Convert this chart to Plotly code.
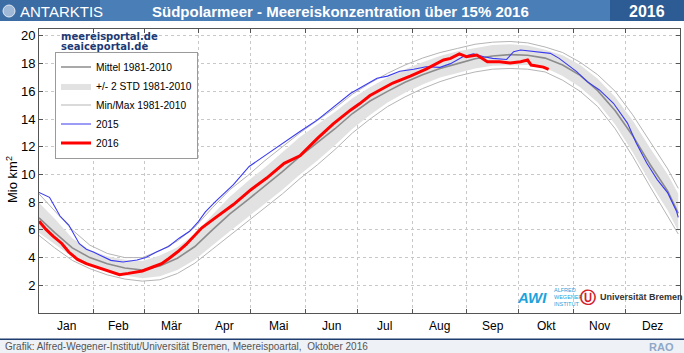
import plotly.graph_objects as go

# ---------------- data ----------------
month_labels = ["Jan", "Feb", "Mär", "Apr", "Mai", "Jun", "Jul", "Aug", "Sep", "Okt", "Nov", "Dez"]
month_starts = [1, 32, 61, 92, 122, 153, 183, 214, 245, 275, 306, 336, 367]

clim_days = [1, 10, 20, 30, 40, 50, 60, 70, 80, 90, 100, 110, 120, 130, 140, 150, 160, 170, 180,
             190, 200, 210, 220, 230, 240, 250, 260, 270, 280, 290, 300, 310, 320, 330, 340, 350, 360, 366]
mean_vals = [6.87, 5.8, 4.7, 4.0, 3.55, 3.25, 3.1, 3.4, 3.95, 4.8, 6.0, 7.15, 8.15, 9.15, 10.2, 11.3, 12.3, 13.3, 14.4,
             15.3, 16.0, 16.65, 17.2, 17.65, 18.0, 18.35, 18.55, 18.65, 18.6, 18.4, 17.9, 17.15, 16.05, 14.6, 12.8, 10.7, 8.8, 7.2]
std_hi = [7.95, 6.8, 5.4, 4.55, 4.1, 3.85, 3.75, 4.15, 4.75, 5.7, 7.1, 8.4, 9.5, 10.5, 11.6, 12.7, 13.6, 14.5, 15.5,
          16.3, 17.0, 17.6, 18.1, 18.55, 18.9, 19.15, 19.35, 19.4, 19.3, 19.0, 18.6, 17.9, 16.9, 15.6, 13.9, 11.9, 10.0, 8.6]
std_lo = [5.8, 4.95, 4.05, 3.45, 3.0, 2.7, 2.5, 2.65, 3.1, 3.85, 4.9, 5.9, 6.9, 7.9, 8.9, 10.0, 11.0, 12.1, 13.3,
          14.3, 15.2, 15.9, 16.5, 17.0, 17.35, 17.65, 17.85, 17.9, 17.9, 17.7, 17.1, 16.3, 15.2, 13.6, 11.6, 9.4, 7.4, 5.9]
max_vals = [8.6, 7.4, 6.0, 4.9, 4.3, 4.0, 4.0, 4.5, 5.2, 6.2, 7.6, 8.9, 9.9, 11.0, 12.0, 13.0, 13.9, 14.8, 15.8,
            16.6, 17.3, 17.9, 18.4, 18.8, 19.1, 19.4, 19.55, 19.6, 19.5, 19.2, 18.8, 18.1, 17.2, 16.0, 14.3, 12.3, 10.4, 9.0]
min_vals = [5.6, 4.7, 3.8, 3.2, 2.75, 2.45, 2.3, 2.4, 2.85, 3.6, 4.6, 5.6, 6.6, 7.6, 8.6, 9.7, 10.7, 11.8, 13.0,
            14.0, 14.9, 15.6, 16.2, 16.7, 17.1, 17.4, 17.6, 17.65, 17.6, 17.4, 16.8, 16.0, 14.9, 13.3, 11.3, 9.1, 7.0, 5.7]

days_2015 = [1, 7, 13, 18, 24, 28, 32, 37, 42, 49, 57, 62, 68, 75, 81, 87, 92, 96, 102, 112, 121, 131, 140, 150,
             160, 169, 179, 184, 194, 200, 207, 215, 222, 230, 236, 243, 249, 255, 260, 268, 272, 276, 285, 293,
             298, 304, 308, 314, 321, 329, 337, 342, 348, 354, 360, 365, 366]
ice_2015 = [8.7, 8.35, 7.0, 6.35, 5.0, 4.6, 4.4, 4.1, 3.8, 3.68, 3.82, 4.0, 4.4, 4.8, 5.4, 5.9, 6.6, 7.3, 8.07, 9.26,
            10.58, 11.45, 12.26, 13.1, 13.94, 14.85, 15.86, 16.22, 16.95, 17.1, 17.45, 17.59, 17.78, 17.73, 18.0,
            18.5, 18.7, 18.5, 18.38, 18.3, 18.86, 18.98, 18.86, 18.74, 18.38, 17.78, 17.42, 16.7, 16.1, 15.14, 13.71,
            12.27, 10.83, 9.63, 8.67, 7.35, 6.9]

days_2016 = [1, 5, 9, 14, 18, 23, 28, 33, 37, 42, 47, 52, 56, 60, 66, 71, 75, 80, 85, 90, 94, 102, 112, 122, 131,
             141, 150, 160, 169, 179, 184, 190, 196, 203, 213, 222, 232, 236, 241, 245, 251, 257, 264, 270, 276,
             280, 282, 286, 289, 292]
ice_2016 = [6.63, 6.03, 5.55, 5.02, 4.4, 3.87, 3.56, 3.35, 3.15, 2.96, 2.77, 2.86, 2.96, 3.03, 3.32, 3.56, 3.92,
            4.4, 4.95, 5.6, 6.15, 6.9, 7.83, 8.9, 9.74, 10.8, 11.35, 12.6, 13.65, 14.66, 15.1, 15.7, 16.1, 16.6,
            17.1, 17.6, 18.26, 18.38, 18.7, 18.5, 18.62, 18.14, 18.14, 18.05, 18.14, 18.26, 17.9, 17.83, 17.75, 17.59]

y_ticks = [2, 4, 6, 8, 10, 12, 14, 16, 18, 20]

# ---------------- layout helpers ----------------
W, H = 684, 353
L, R, T, B = 39, 4, 29, 40
PW, PH = W - L - R, H - T - B


def px_x(p):
    return (p - L) / PW


def px_y(p):
    return (H - B - p) / PH


FONT = "Liberation Sans, Arial, sans-serif"
NARROW = "Liberation Sans Narrow, Arial Narrow, Liberation Sans, Arial, sans-serif"
WIDE = "DejaVu Sans, Verdana, sans-serif"

fig = go.Figure()

# band
fig.add_trace(go.Scatter(x=clim_days, y=std_lo, mode="lines", line=dict(width=0, color="#e2e2e2"),
                         showlegend=False, hoverinfo="skip"))
fig.add_trace(go.Scatter(x=clim_days, y=std_hi, mode="lines", line=dict(width=0, color="#e2e2e2"),
                         fill="tonexty", fillcolor="#e2e2e2", name="+/- 2 STD 1981-2010", legendrank=2))
# min / max
fig.add_trace(go.Scatter(x=clim_days, y=max_vals, mode="lines", line=dict(width=1, color="#b5b5b5"),
                         name="Min/Max 1981-2010", legendrank=3))
fig.add_trace(go.Scatter(x=clim_days, y=min_vals, mode="lines", line=dict(width=1, color="#b5b5b5"),
                         showlegend=False))
# mean
fig.add_trace(go.Scatter(x=clim_days, y=mean_vals, mode="lines", line=dict(width=1.6, color="#8c8c8c"),
                         name="Mittel 1981-2010", legendrank=1))
# years
fig.add_trace(go.Scatter(x=days_2015, y=ice_2015, mode="lines", line=dict(width=1.1, color="#3a3af0"),
                         name="2015", legendrank=4))
fig.add_trace(go.Scatter(x=days_2016, y=ice_2016, mode="lines", line=dict(width=3, color="#ff0000"),
                         name="2016", legendrank=5))

axis_common = dict(showline=True, linecolor="#555555", linewidth=1, mirror="ticks", ticks="inside",
                   ticklen=4, tickcolor="#555555", showgrid=True, gridcolor="#c8c8c8", griddash="dot",
                   gridwidth=1, zeroline=False)

fig.update_layout(
    width=W, height=H, margin=dict(l=L, r=R, t=T, b=B),
    paper_bgcolor="white", plot_bgcolor="white",
    font=dict(family=FONT, size=12, color="black"),
    xaxis=dict(range=[1, 367], tickvals=month_starts, showticklabels=False, **axis_common),
    yaxis=dict(range=[0, 20.5], tickvals=y_ticks, ticktext=[str(v) for v in y_ticks],
               tickfont=dict(size=13), **axis_common),
    legend=dict(x=px_x(55), y=px_y(51.5), xanchor="left", yanchor="top", bgcolor="white",
                bordercolor="#9a9a9a", borderwidth=1, font=dict(size=10.2, family=FONT),
                itemwidth=30, tracegroupgap=0, traceorder="normal"),
    showlegend=True,
)

shapes = []
# title bar
shapes.append(dict(type="rect", xref="paper", yref="paper", x0=px_x(0), x1=px_x(100), y0=px_y(21), y1=px_y(0),
                   fillcolor="#3b6ca4", line=dict(width=0), layer="above"))
shapes.append(dict(type="rect", xref="paper", yref="paper", x0=px_x(100), x1=px_x(610), y0=px_y(21), y1=px_y(0),
                   fillcolor="#4a7eb7", line=dict(width=0), layer="above"))
shapes.append(dict(type="rect", xref="paper", yref="paper", x0=px_x(610), x1=px_x(684), y0=px_y(21), y1=px_y(0),
                   fillcolor="#2d5b93", line=dict(width=0), layer="above"))
# globe icon
shapes.append(dict(type="circle", xref="paper", yref="paper", x0=px_x(3), x1=px_x(15), y0=px_y(17), y1=px_y(5),
                   fillcolor="#9fb8d8", line=dict(width=1, color="#dfe8f3"), layer="above"))
# footer
shapes.append(dict(type="rect", xref="paper", yref="paper", x0=px_x(0), x1=px_x(684), y0=px_y(353), y1=px_y(340),
                   fillcolor="#eef1f5", line=dict(width=0), layer="above"))
shapes.append(dict(type="rect", xref="paper", yref="paper", x0=px_x(0), x1=px_x(684), y0=px_y(340), y1=px_y(338.5),
                   fillcolor="#1f3d6e", line=dict(width=0), layer="above"))
fig.update_layout(shapes=shapes)

ann = []
ann.append(dict(text="ANTARKTIS", x=px_x(18), y=px_y(11), xref="paper", yref="paper", xanchor="left",
                yanchor="middle", showarrow=False, font=dict(family=NARROW, size=15, color="white")))
ann.append(dict(text="<b>Südpolarmeer - Meereiskonzentration über 15% 2016</b>", x=px_x(340), y=px_y(11),
                xref="paper", yref="paper", xanchor="center", yanchor="middle", showarrow=False,
                font=dict(family=NARROW, size=15, color="white")))
ann.append(dict(text="<b>2016</b>", x=px_x(647), y=px_y(11), xref="paper", yref="paper", xanchor="center",
                yanchor="middle", showarrow=False, font=dict(family=NARROW, size=16, color="white")))
ann.append(dict(text="<b>meereisportal.de</b>", x=px_x(59), y=px_y(36.5), xref="paper", yref="paper",
                xanchor="left", yanchor="middle", showarrow=False,
                font=dict(family=WIDE, size=10, color="#1c3a75")))
ann.append(dict(text="<b>seaiceportal.de</b>", x=px_x(59), y=px_y(46.5), xref="paper", yref="paper",
                xanchor="left", yanchor="middle", showarrow=False,
                font=dict(family=WIDE, size=10, color="#1c3a75")))
ann.append(dict(text="Mio km<sup>2</sup>", x=px_x(12), y=px_y(180), xref="paper", yref="paper",
                xanchor="center", yanchor="middle", textangle=-90, showarrow=False, font=dict(size=13)))
ann.append(dict(text="Grafik: Alfred-Wegener-Institut/Universität Bremen, Meereispoartal,  Oktober 2016",
                x=px_x(3), y=px_y(346.5), xref="paper", yref="paper", xanchor="left", yanchor="middle",
                showarrow=False, font=dict(family=NARROW, size=10, color="#555555")))
ann.append(dict(text="<b>RAO</b>", x=px_x(676), y=px_y(346.5), xref="paper", yref="paper", xanchor="right",
                yanchor="middle", showarrow=False, font=dict(size=11, color="#8fa8c8")))
# logos (as text)
ann.append(dict(text="<b><i>AWI</i></b>", x=px_x(532), y=px_y(297), xref="paper", yref="paper",
                xanchor="center", yanchor="middle", showarrow=False, font=dict(size=15, color="#1ca3dc")))
ann.append(dict(text="ALFRED<br>WEGENER<br>INSTITUT", x=px_x(552), y=px_y(297), xref="paper", yref="paper",
                xanchor="left", yanchor="middle", showarrow=False, align="left",
                font=dict(size=5.5, color="#1ca3dc")))
ann.append(dict(text="<b>Ⓤ</b>", x=px_x(588), y=px_y(297), xref="paper", yref="paper",
                xanchor="center", yanchor="middle", showarrow=False, font=dict(size=16, color="#d4202a")))
ann.append(dict(text="<b>Universität Bremen</b>", x=px_x(598), y=px_y(297), xref="paper", yref="paper",
                xanchor="left", yanchor="middle", showarrow=False, font=dict(size=9, color="#333333")))
# month labels
for i, lab in enumerate(month_labels):
    mid = (month_starts[i] + month_starts[i + 1]) / 2
    ann.append(dict(text=lab, x=mid, y=px_y(326), xref="x", yref="paper", xanchor="center", yanchor="middle",
                    showarrow=False, font=dict(size=12)))
fig.update_layout(annotations=ann)

fig.write_html("out.html")
